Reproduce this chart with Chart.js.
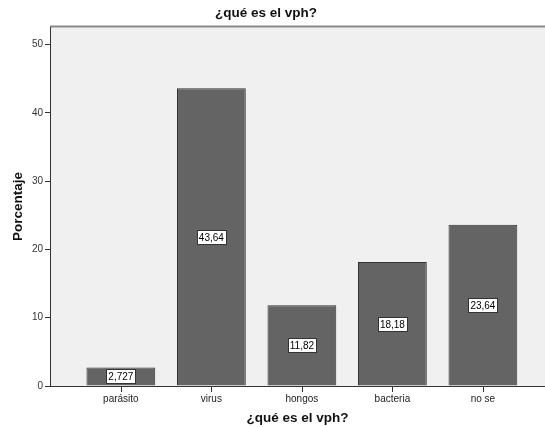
<!DOCTYPE html>
<html>
<head>
<meta charset="utf-8">
<style>
  html, body { margin: 0; padding: 0; background: #ffffff; }
  #wrap { width: 545px; height: 427px; }
</style>
<script src="https://cdn.jsdelivr.net/npm/chart.js@4.4.1/dist/chart.umd.min.js"></script>
</head>
<body>
<div id="wrap"><canvas id="c" width="545" height="427"></canvas></div>
<script>
// Answers to "¿qué es el vph?" (percent of respondents)
const categories = ['parásito', 'virus', 'hongos', 'bacteria', 'no se'];
const percentages = [2.727, 43.64, 11.82, 18.18, 23.64];
const yTickValues = [0, 10, 20, 30, 40, 50];

const FONT = "'Liberation Sans', Arial, sans-serif";
const chartTitle = '¿qué es el vph?';

// Plot background, top frame line, category tick marks and the heading
const frame = {
  id: 'frame',
  beforeDraw(chart) {
    const { ctx, chartArea: a } = chart;
    ctx.save();
    ctx.fillStyle = '#ffffff';
    ctx.fillRect(0, 0, chart.width, chart.height);
    ctx.fillStyle = '#f0f0f0';
    ctx.fillRect(a.left, a.top, a.right - a.left, a.bottom - a.top);
    ctx.strokeStyle = '#8a8a8a';
    ctx.lineWidth = 2;
    ctx.beginPath();
    ctx.moveTo(a.left, a.top - 0.5);
    ctx.lineTo(a.right, a.top - 0.5);
    ctx.stroke();
    ctx.restore();
  },
  afterDraw(chart) {
    const { ctx, chartArea: a } = chart;
    const xs = chart.scales.x;
    ctx.save();
    ctx.strokeStyle = '#333333';
    ctx.lineWidth = 1;
    ctx.beginPath();
    xs.ticks.forEach((t, i) => {
      const px = Math.round(xs.getPixelForTick(i)) + 0.5;
      ctx.moveTo(px, a.bottom);
      ctx.lineTo(px, a.bottom + 6);
    });
    ctx.stroke();
    ctx.font = 'bold 13.5px ' + FONT;
    ctx.fillStyle = '#111111';
    ctx.textAlign = 'center';
    ctx.textBaseline = 'middle';
    ctx.fillText(chartTitle, 266, 13);
    ctx.restore();
  }
};

// Boxed value labels in the middle of each bar
const valueBoxes = {
  id: 'valueBoxes',
  afterDatasetsDraw(chart) {
    const { ctx } = chart;
    const meta = chart.getDatasetMeta(0);
    ctx.save();
    ctx.font = '10px ' + FONT;
    ctx.textAlign = 'center';
    ctx.textBaseline = 'middle';
    meta.data.forEach((bar, i) => {
      const p = bar.getProps(['x', 'y', 'base'], true);
      const cy = (p.y + p.base) / 2;
      const txt = String(percentages[i]).replace('.', ',');
      const w = Math.round(ctx.measureText(txt).width) + 4;
      const h = 14;
      const left = Math.round(p.x - w / 2) + 0.5;
      const top = Math.round(cy - h / 2) + 0.5;
      ctx.fillStyle = '#ffffff';
      ctx.fillRect(left, top, w, h);
      ctx.strokeStyle = '#333333';
      ctx.lineWidth = 1;
      ctx.strokeRect(left, top, w, h);
      ctx.fillStyle = '#000000';
      ctx.fillText(txt, p.x, top + h / 2 + 0.5);
    });
    ctx.restore();
  }
};

new Chart(document.getElementById('c'), {
  type: 'bar',
  data: {
    datasets: [{
      data: categories.map((c, i) => ({ x: i, y: percentages[i] })),
      backgroundColor: '#646464',
      borderColor: '#333333',
      borderWidth: 1,
      categoryPercentage: 1,
      barPercentage: 0.76
    }]
  },
  options: {
    responsive: false,
    animation: false,
    devicePixelRatio: 1,
    layout: { padding: { top: 27, left: 0, right: 0, bottom: 0 } },
    plugins: {
      legend: { display: false },
      tooltip: { enabled: false },
      title: { display: false }
    },
    scales: {
      x: {
        type: 'linear',
        min: -0.783,
        max: 4.686,
        offset: false,
        afterBuildTicks(scale) { scale.ticks = categories.map((c, i) => ({ value: i })); },
        afterFit(scale) { scale.height = 41; },
        ticks: {
          callback: (v) => categories[v],
          font: { family: FONT, size: 10 },
          color: '#222222',
          padding: 1,
          maxRotation: 0,
          autoSkip: false
        },
        grid: { offset: false, drawOnChartArea: false, drawTicks: true, tickLength: 6, tickColor: 'rgba(0,0,0,0)', color: '#333333' },
        border: { display: true, color: '#333333', width: 1 },
        title: {
          display: true,
          text: chartTitle,
          font: { family: FONT, size: 13.5, weight: 'bold' },
          color: '#111111',
          padding: { top: 0, bottom: 0.8 }
        }
      },
      y: {
        min: 0,
        max: 52.6,
        afterBuildTicks(scale) { scale.ticks = yTickValues.map(v => ({ value: v })); },
        afterFit(scale) { scale.width = 50; },
        ticks: {
          font: { family: FONT, size: 10 },
          color: '#333333',
          padding: 2
        },
        grid: { offset: false, drawOnChartArea: false, drawTicks: true, tickLength: 5, color: '#333333' },
        border: { display: true, color: '#333333', width: 1 },
        title: {
          display: true,
          text: 'Porcentaje',
          font: { family: FONT, size: 13.5, weight: 'bold' },
          color: '#111111',
          padding: { top: 10.5, bottom: 0 }
        }
      }
    }
  },
  plugins: [frame, valueBoxes]
});
</script>
</body>
</html>
